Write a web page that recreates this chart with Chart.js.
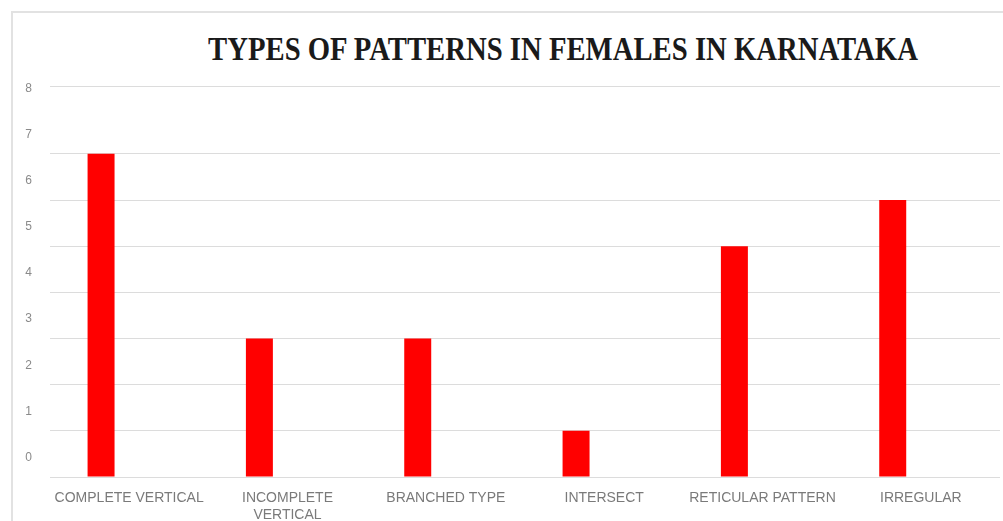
<!DOCTYPE html>
<html>
<head>
<meta charset="utf-8">
<script src="https://cdn.jsdelivr.net/npm/chart.js@4/dist/chart.umd.min.js"></script>
<style>
  html, body { margin: 0; padding: 0; background: #ffffff; }
  #wrap { position: relative; width: 1003px; height: 521px; overflow: hidden; background: #ffffff; }
  #frame { position: absolute; left: 11px; top: 11px; right: -20px; bottom: -20px;
           border-left: 2px solid #e2e2e2; border-top: 2px solid #e2e2e2; }
  #title { position: absolute; left: 0; top: 33px; width: 1126px; text-align: center;
           font: bold 33px "Liberation Serif", "Times New Roman", serif; line-height: 33px;
           color: #1a1a1a; white-space: nowrap;
           transform: scaleX(0.87); transform-origin: 563px 50%; }
  canvas { position: absolute; left: 0; top: 0; }
</style>
</head>
<body>
<div id="wrap">
  <div id="frame"></div>
  <div id="title">TYPES OF PATTERNS IN FEMALES IN KARNATAKA</div>
  <canvas id="chart" width="1003" height="521"></canvas>
</div>
<script>
// Pattern categories along the horizontal axis
const categories = [
  'COMPLETE VERTICAL',
  ['INCOMPLETE', 'VERTICAL'],
  'BRANCHED TYPE',
  'INTERSECT',
  'RETICULAR PATTERN',
  'IRREGULAR'
];

// Number of females showing each pattern
const femaleCounts = [7, 3, 3, 1, 5, 6];

// Second (empty) series of the clustered layout, keeps bars left of centre
const emptySeries = [null, null, null, null, null, null];

// Value-axis tick labels
const yTickLabels = ['0', '1', '2', '3', '4', '5', '6', '7', '8'];

// Value axis range and gridline steps
const axisMax = 8.47;
const gridSteps = [0, 1, 2, 3, 4, 5, 6, 7];
// Tick labels sit a little above their gridline
const labelShift = 0.42;

const ctx = document.getElementById('chart').getContext('2d');
new Chart(ctx, {
  type: 'bar',
  data: {
    labels: categories,
    datasets: [
      {
        label: 'Females',
        data: femaleCounts,
        backgroundColor: '#ff0000',
        borderWidth: 0,
        yAxisID: 'y',
        barPercentage: 0.48,
        categoryPercentage: 0.71
      },
      {
        label: '',
        data: emptySeries,
        backgroundColor: 'rgba(0,0,0,0)',
        yAxisID: 'y',
        barPercentage: 0.48,
        categoryPercentage: 0.71
      }
    ]
  },
  options: {
    responsive: false,
    animation: false,
    devicePixelRatio: 1,
    layout: { padding: { top: 86, right: 3, left: 0, bottom: 0 } },
    plugins: {
      legend: { display: false },
      tooltip: { enabled: false },
      title: { display: false }
    },
    scales: {
      x: {
        grid: { display: false, drawTicks: false },
        border: { display: false },
        ticks: {
          color: '#7a7a7a',
          font: { family: '"Liberation Sans", Arial, sans-serif', size: 14 },
          maxRotation: 0,
          minRotation: 0,
          autoSkip: false,
          padding: 13
        },
        afterFit: s => { s.height = 44; }
      },
      y: {
        position: 'left',
        min: 0,
        max: axisMax,
        afterBuildTicks: s => {
          s.ticks = gridSteps.concat([axisMax]).map(v => ({ value: v }));
        },
        ticks: { display: false },
        grid: { color: '#dcdcdc', lineWidth: 1, drawTicks: false },
        border: { display: false },
        afterFit: s => { s.width = 0; }
      },
      yLabels: {
        position: 'left',
        min: 0,
        max: axisMax,
        afterBuildTicks: s => {
          s.ticks = yTickLabels.map((t, i) => ({ value: i + labelShift }));
        },
        ticks: {
          color: '#8a8a8a',
          font: { family: '"Liberation Sans", Arial, sans-serif', size: 12 },
          padding: 18,
          callback: (v, i) => yTickLabels[i]
        },
        grid: { display: false, drawTicks: false },
        border: { display: false },
        afterFit: s => { s.width = 50; }
      }
    }
  }
});
</script>
</body>
</html>
